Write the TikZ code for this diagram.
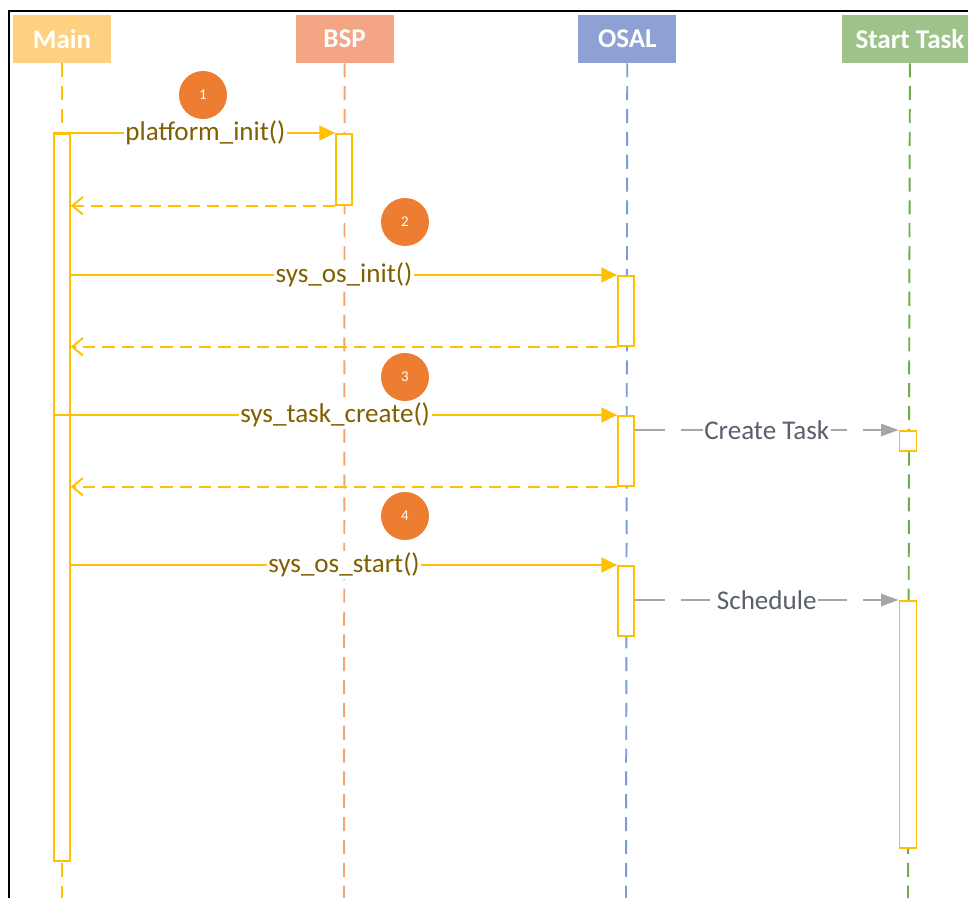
\documentclass[tikz,border=0pt]{standalone}
\usepackage{fontspec}
\setmainfont{Carlito}
\usetikzlibrary{positioning, arrows.meta, shapes}

\definecolor{mainfill}{HTML}{FFD07F}
\definecolor{bspfill}{HTML}{F3A584}
\definecolor{osalfill}{HTML}{8EA1D4}
\definecolor{taskfill}{HTML}{9DC38A}
\definecolor{mainline}{HTML}{FFC000}
\definecolor{bspline}{HTML}{F4A46E}
\definecolor{osalline}{HTML}{7B9BD9}
\definecolor{taskline}{HTML}{70AD47}
\definecolor{gold}{HTML}{FFC000}
\definecolor{msgtext}{HTML}{7F6000}
\definecolor{arrowgray}{HTML}{A6A6A6}
\definecolor{graytext}{HTML}{595F6B}
\definecolor{stepfill}{HTML}{ED7D31}

\tikzstyle{header} = [rectangle, minimum width=1.96cm, minimum height=0.96cm, inner sep=0pt, text centered, text=white, font=\bfseries\fontsize{15.4}{18}\selectfont]
\tikzstyle{lifeline} = [line width=1.1pt, dash pattern=on 8pt off 5pt]
\tikzstyle{activation} = [rectangle, draw=gold, fill=white, line width=1pt, minimum width=0.32cm, inner sep=0pt, anchor=north]
\tikzstyle{call} = [line width=1.1pt, gold, -{Triangle[length=9pt,width=8.5pt]}]
\tikzstyle{reply} = [line width=1.1pt, gold, dash pattern=on 7pt off 4pt, -{Straight Barb[length=6pt,width=10pt]}]
\tikzstyle{signal} = [line width=1.1pt, arrowgray, dash pattern=on 17pt off 9pt, -{Triangle[length=10pt,width=7pt]}]
\tikzstyle{msg} = [fill=white, inner sep=1pt, text=msgtext, font=\fontsize{15.4}{18}\selectfont]
\tikzstyle{graymsg} = [msg, text=graytext]
\tikzstyle{stepmark} = [circle, fill=stepfill, minimum size=0.96cm, inner sep=0pt, text=white, font=\fontsize{8.5}{10}\selectfont]

\begin{document}
\begin{tikzpicture}[x=0.02cm, y=-0.02cm]
            \clip (0,0) rectangle (968,898);
            % frame
            \draw [line width=1.2pt] (968,11) -- (9,11) -- (9,898);

            % participants
            \node (main) [header, fill=mainfill] at (62,39) {Main};
            \node (bsp) [header, fill=bspfill, right=3.68cm of main] {BSP};
            \node (osal) [header, fill=osalfill, right=3.68cm of bsp] {OSAL};
            \node (task) [header, fill=taskfill, right=3.3cm of osal, minimum width=2.72cm] {Start Task};

            \coordinate (mainend) at (62,898);
            \coordinate (bspend) at (344,898);
            \coordinate (osalend) at (626,898);
            \coordinate (taskend) at (908,898);

            \draw [lifeline, mainline] (main) -- (mainend);
            \draw [lifeline, bspline] (bsp) -- (bspend);
            \draw [lifeline, osalline] (osal) -- (osalend);
            \draw [lifeline, taskline] (task) -- (taskend);

            % activations
            \node (mainact) [activation, minimum height=14.54cm] at (62,133) {};
            \node (bspact) [activation, minimum height=1.42cm] at (344,133) {};
            \node (osalinit) [activation, minimum height=1.4cm] at (626,275) {};
            \node (osalcreate) [activation, minimum height=1.4cm] at (626,415) {};
            \node (osalstart) [activation, minimum height=1.4cm] at (626,565) {};
            \node (taskcreate) [activation, minimum height=0.4cm, minimum width=0.34cm] at (908,430) {};
            \node (taskrun) [activation, minimum height=4.94cm, minimum width=0.34cm] at (908,600) {};

            % steps
            \node (one) [stepmark] at (203,95) {1};
            \node (two) [stepmark] at (405,222) {2};
            \node (three) [stepmark] at (405,377) {3};
            \node (four) [stepmark] at (405,516) {4};

            % messages
            \draw [call] (mainact.north west) -- node[msg, pos=0.54]{platform\_init()} (bspact.north west);
            \draw [reply] (bspact.south west) -- (mainact.east |- bspact.south west);
            \draw [call] (mainact.east |- osalinit.north) -- node[msg]{sys\_os\_init()} (osalinit.north west);
            \draw [reply] (osalinit.south west) -- (mainact.east |- osalinit.south west);
            \draw [call] (mainact.west |- osalcreate.north) -- node[msg]{sys\_task\_create()} (osalcreate.north west);
            \draw [reply] (osalcreate.south west) -- (mainact.east |- osalcreate.south west);
            \draw [call] (mainact.east |- osalstart.north) -- node[msg]{sys\_os\_start()} (osalstart.north west);
            \draw [signal] (osalcreate.east |- taskcreate.north west) -- node[graymsg]{Create Task} (taskcreate.north west);
            \draw [signal] (osalstart.east |- taskrun.north west) -- node[graymsg]{Schedule} (taskrun.north west);

            \end{tikzpicture}
\end{document}
